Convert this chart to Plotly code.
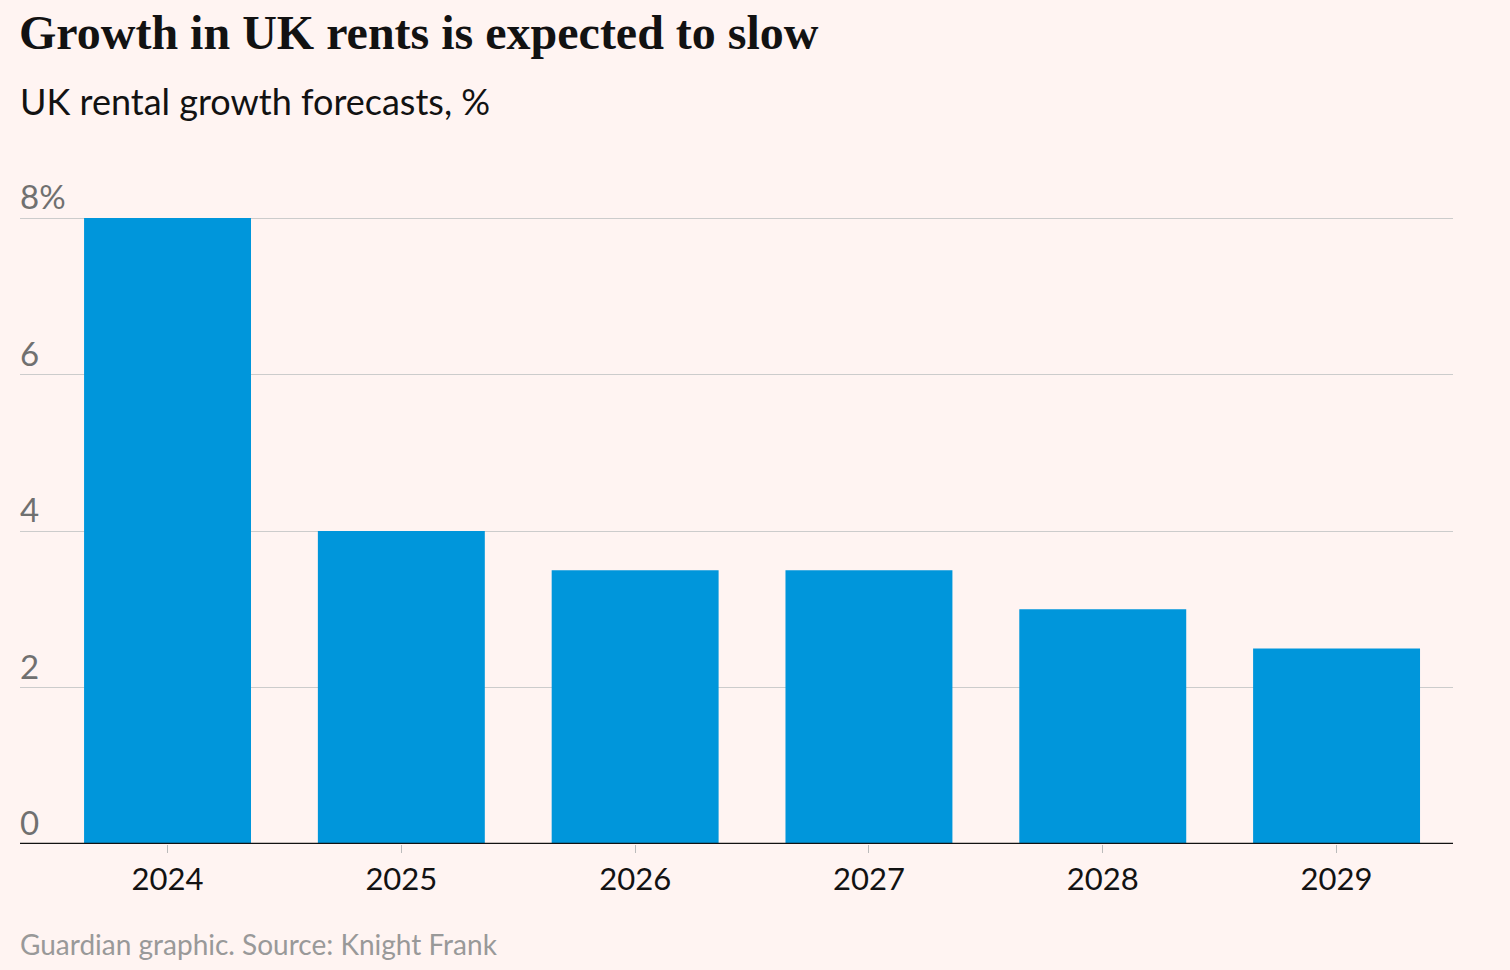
import plotly.graph_objects as go

years = ["2024", "2025", "2026", "2027", "2028", "2029"]
growth = [8, 4, 3.5, 3.5, 3, 2.5]
y_ticks = [0, 2, 4, 6, 8]
y_tick_labels = ["0", "2", "4", "6", "8%"]

BG = "#fff4f2"
BAR = "#0096db"

W, H = 1510, 970
L, R, T, B = 20, 57, 214, 126
ph = H - T - B
unit = (H - B - 218) / 8.0
ytop = ph / unit

def py(p):
    return (H - B - p) / ph

fig = go.Figure()
fig.add_trace(go.Bar(x=years, y=growth, marker=dict(color=BAR, line=dict(width=0)),
                     hoverinfo="x+y"))

annotations = []
for v, lab in zip(y_ticks, y_tick_labels):
    annotations.append(dict(x=0, xref="paper", xanchor="left", y=v, yref="y",
                            yanchor="bottom", yshift=0, xshift=-2, text=lab,
                            showarrow=False,
                            font=dict(family="Lato", size=33, color="#707070")))
annotations.append(dict(x=0, xref="paper", xanchor="left", y=py(101), yref="paper",
                        yanchor="middle", xshift=-2, text="UK rental growth forecasts, %",
                        showarrow=False,
                        font=dict(family="Lato", size=36, color="#121212")))
annotations.append(dict(x=0, xref="paper", xanchor="left", y=py(944), yref="paper",
                        yanchor="middle", xshift=-2,
                        text="Guardian graphic. Source: Knight Frank",
                        showarrow=False,
                        font=dict(family="Lato", size=28, color="#999999")))

fig.update_layout(
    width=W, height=H,
    paper_bgcolor=BG, plot_bgcolor=BG,
    margin=dict(l=L, r=R, t=T, b=B, pad=0),
    bargap=0.286,
    showlegend=False,
    title=dict(text="<b>Growth in UK rents is expected to slow</b>",
               x=(L - 1) / W, xanchor="left", xref="container",
               y=1 - 32 / H, yanchor="middle", yref="container",
               font=dict(family="Liberation Serif", size=48, color="#121212")),
    annotations=annotations,
    xaxis=dict(range=[-0.631, 5.498], showgrid=False, zeroline=False,
               ticks="outside", ticklen=8, tickwidth=1, tickcolor="#bbbbbb",
               tickfont=dict(family="Lato", size=31, color="#121212"),
               showline=False, fixedrange=True),
    yaxis=dict(range=[0, ytop], tickvals=y_ticks, showticklabels=False,
               showgrid=True, gridcolor="#cccccc", gridwidth=1,
               zeroline=False, showline=False, fixedrange=True),
    shapes=[dict(type="line", xref="paper", yref="y", x0=0, x1=1, y0=0, y1=0,
                 line=dict(color="#121212", width=2.5))],
)

fig.write_html("out.html",
               config={"displayModeBar": False},
               post_script="document.body.style.margin='0';"
                           "document.body.style.background='#fff4f2';")
